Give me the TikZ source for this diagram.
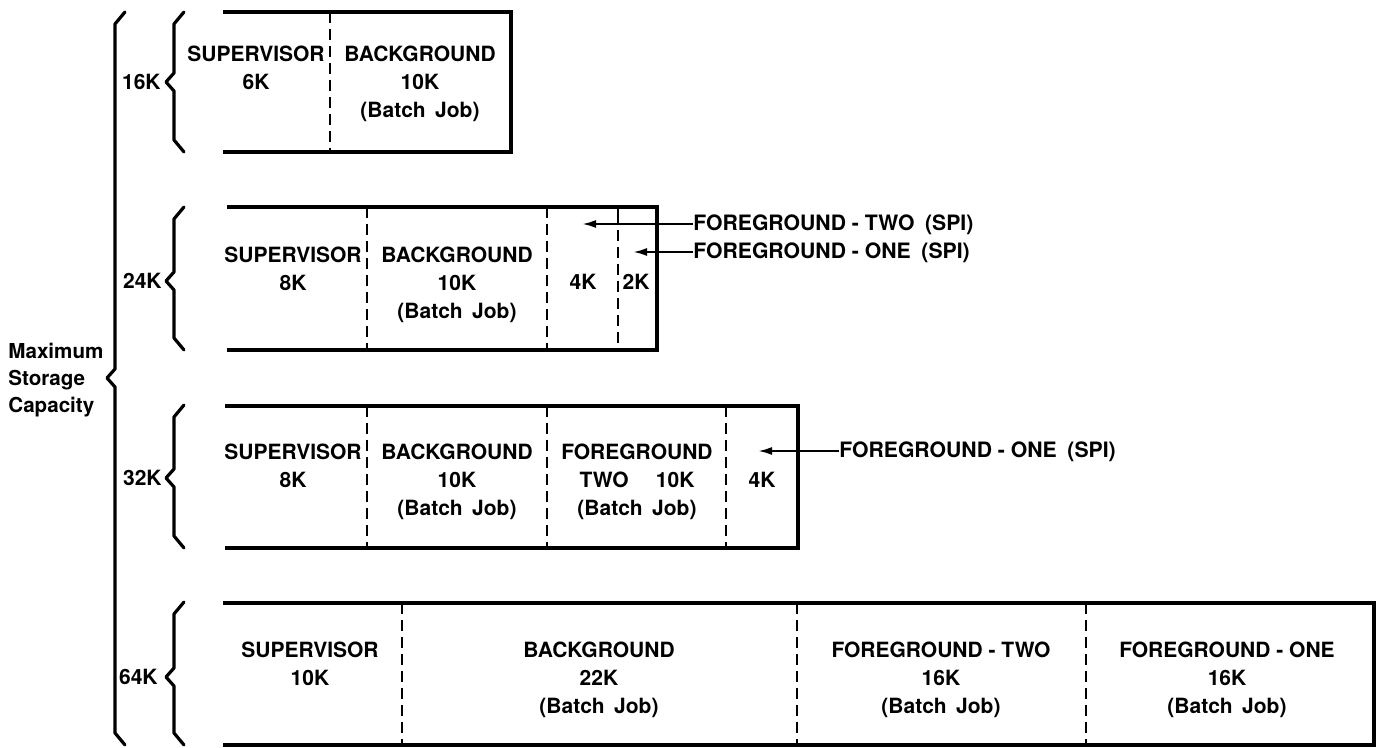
\documentclass[tikz,border=0pt]{standalone}
\usepackage{fontspec}
\setmainfont{TeX Gyre Heros}
\usetikzlibrary{arrows.meta}
\newcommand\mybrc[5]{% spine x, top y, bottom y, mid y, tip x
  \draw[brc] ({#1+10},#2) -- ({#1},{#2+12}) -- ({#1},{#4-9}) -- (#5,#4) -- ({#1},{#4+9}) -- ({#1},{#3-12}) -- ({#1+10},#3);}
\begin{document}
\begin{tikzpicture}[x=0.5pt,y=-0.5pt,
  boxln/.style={line width=1.6pt, line join=miter},
  divln/.style={line width=0.9pt, dash pattern=on 5.5pt off 3pt},
  solidln/.style={line width=0.9pt},
  brc/.style={line width=1.6pt, line join=round, line cap=round},
  cell/.style={font=\fontsize{10.5}{14}\selectfont\bfseries, inner sep=0pt, align=center, anchor=north},
  one/.style={font=\fontsize{10.5}{14}\selectfont\bfseries, inner sep=0pt, anchor=center},
  size/.style={font=\fontsize{10.5}{14}\selectfont\bfseries, inner sep=0pt, anchor=east},
  side/.style={font=\fontsize{10.6}{14}\selectfont\bfseries, inner sep=0pt, anchor=base west},
  arr/.style={line width=1.1pt, -{Latex[length=7pt,width=4pt]}}]
\useasboundingbox (0,0) rectangle (1378,748);

% ---------- big brace and label
\mybrc{115}{12}{745}{378}{107}
\node[font=\fontsize{10.3}{13.5}\selectfont\bfseries, inner sep=0pt, align=left, anchor=north west] (maxcap) at (8,343) {Maximum\\Storage\\Capacity};

% ---------- row 1 : 16K
\mybrc{174}{12}{152}{82}{166}
\node[size] (k16) at (161,82) {16K};
\draw[boxln] (223,12) -- (511,12) -- (511,152) -- (223,152);
\draw[divln] (330,12) -- (330,152);
\node[cell] (r1sup) at (256,46) {SUPERVISOR\\6K};
\node[cell] (r1bg) at (420,46) {BACKGROUND\\10K\\(Batch\hspace{0.45em}Job)};

% ---------- row 2 : 24K
\mybrc{174}{207}{350}{281}{166}
\node[size] (k24) at (162,281) {24K};
\draw[boxln] (227,207) -- (657,207) -- (657,350) -- (227,350);
\draw[divln] (367,207) -- (367,350);
\draw[divln] (547,207) -- (547,350);
\draw[solidln] (618,207) -- (618,224);
\draw[divln] (618,230) -- (618,350);
\node[cell] (r2sup) at (293,247) {SUPERVISOR\\8K};
\node[cell] (r2bg) at (457,247) {BACKGROUND\\10K\\(Batch\hspace{0.45em}Job)};
\node[one] (r2a) at (583,282) {4K};
\node[one] (r2b) at (636,282) {2K};
\coordinate (t2a) at (582,224);
\coordinate (t2b) at (633,252);
\node[side] (f2two) at (693,231) {FOREGROUND - TWO\hspace{0.5em}(SPI)};
\node[side] (f2one) at (693,259) {FOREGROUND - ONE\hspace{0.5em}(SPI)};
\draw[arr] (t2a -| f2two.west) -- (t2a);
\draw[arr] (t2b -| f2one.west) -- (t2b);

% ---------- row 3 : 32K
\mybrc{174}{405}{548}{478}{166}
\node[size] (k32) at (162,478) {32K};
\draw[boxln] (225,406) -- (798,406) -- (798,548) -- (225,548);
\draw[divln] (367,406) -- (367,548);
\draw[divln] (547,406) -- (547,548);
\draw[divln] (726,406) -- (726,548);
\node[cell] (r3sup) at (293,444) {SUPERVISOR\\8K};
\node[cell] (r3bg) at (457,444) {BACKGROUND\\10K\\(Batch\hspace{0.45em}Job)};
\node[cell] (r3fg) at (637,444) {FOREGROUND\\TWO\hspace{1.3em}10K\\(Batch\hspace{0.45em}Job)};
\node[one] (r3c) at (762,480) {4K};
\coordinate (t3) at (758,451);
\node[side] (f3one) at (839,458) {FOREGROUND - ONE\hspace{0.5em}(SPI)};
\draw[arr] (t3 -| f3one.west) -- (t3);

% ---------- row 4 : 64K
\mybrc{174}{602}{745}{677}{166}
\node[size] (k64) at (158,677) {64K};
\draw[boxln] (223,603) -- (1374,603) -- (1374,745) -- (223,745);
\draw[divln] (402,603) -- (402,745);
\draw[divln] (797,603) -- (797,745);
\draw[divln] (1086,603) -- (1086,745);
\node[cell] (r4sup) at (310,642) {SUPERVISOR\\10K};
\node[cell] (r4bg) at (599,642) {BACKGROUND\\22K\\(Batch\hspace{0.45em}Job)};
\node[cell] (r4f2) at (941,642) {FOREGROUND - TWO\\16K\\(Batch\hspace{0.45em}Job)};
\node[cell] (r4f1) at (1227,642) {FOREGROUND - ONE\\16K\\(Batch\hspace{0.45em}Job)};
\end{tikzpicture}
\end{document}
